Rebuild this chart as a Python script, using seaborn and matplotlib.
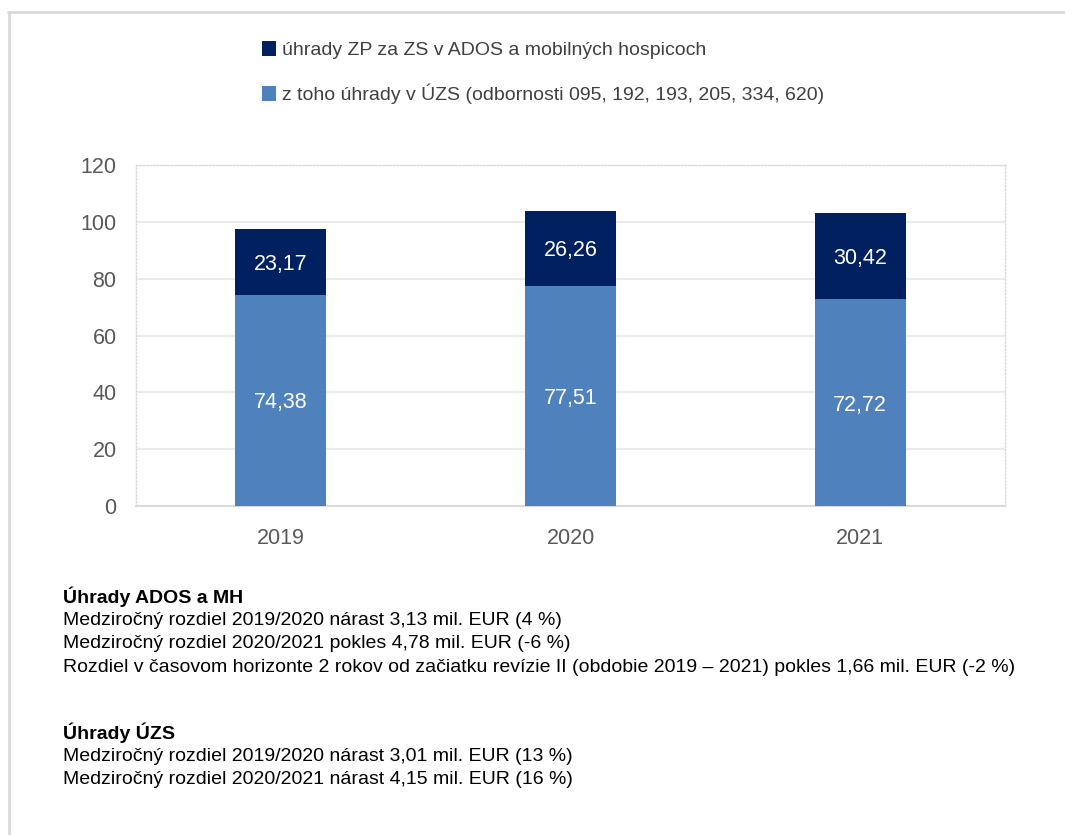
import matplotlib
matplotlib.use("Agg")
import matplotlib.pyplot as plt
from matplotlib.patches import Patch
from matplotlib.lines import Line2D
import pandas as pd
import seaborn as sns

# -------------------------
# Data
# -------------------------
years = ["2019", "2020", "2021"]
uzs = [74.38, 77.51, 72.72]          # z toho úhrady v ÚZS
ados_rest = [23.17, 26.26, 30.42]    # úhrady ZP za ZS v ADOS a MH (zvyšok)

legend_labels = [
    "úhrady ZP za ZS v ADOS a mobilných hospicoch",
    "z toho úhrady v ÚZS (odbornosti 095, 192, 193, 205, 334, 620)",
]

notes_ados_title = "Úhrady ADOS a MH"
notes_ados = [
    "Medziročný rozdiel 2019/2020 nárast 3,13 mil. EUR (4 %)",
    "Medziročný rozdiel 2020/2021 pokles 4,78 mil. EUR (-6 %)",
    "Rozdiel v časovom horizonte 2 rokov od začiatku revízie II (obdobie 2019 – 2021) pokles 1,66 mil. EUR (-2 %)",
]
notes_uzs_title = "Úhrady ÚZS"
notes_uzs = [
    "Medziročný rozdiel 2019/2020 nárast 3,01 mil. EUR (13 %)",
    "Medziročný rozdiel 2020/2021 nárast 4,15 mil. EUR (16 %)",
]

df = pd.DataFrame({"rok": years, "uzs": uzs, "ados": ados_rest})
df["spolu"] = df.uzs + df.ados

DARK = "#002060"
LIGHT = "#4F81BD"

sns.set_theme(style="white")
plt.rcParams["font.family"] = ["Liberation Sans", "DejaVu Sans"]

fig = plt.figure(figsize=(10.65, 8.35), dpi=100)
ax = fig.add_axes([136 / 1065, 1 - 506 / 835, 869 / 1065, 341 / 835])

# total bar (dark) first, then the lower part (light) on top of it
sns.barplot(data=df, x="rok", y="spolu", color=DARK, width=0.314,
            saturation=1, linewidth=0, ax=ax, zorder=3)
sns.barplot(data=df, x="rok", y="uzs", color=LIGHT, width=0.314,
            saturation=1, linewidth=0, ax=ax, zorder=3)

# value labels
for i, row in df.iterrows():
    ax.text(i, row.uzs / 2, f"{row.uzs:.2f}".replace(".", ","),
            ha="center", va="center_baseline", color="white",
            fontsize=15.5, zorder=4)
    ax.text(i, row.uzs + row.ados / 2, f"{row.ados:.2f}".replace(".", ","),
            ha="center", va="center_baseline", color="white",
            fontsize=15.5, zorder=4)

ax.set_xlim(-0.5, 2.5)
ax.set_ylim(0, 120)
ax.set_yticks(range(0, 121, 20))
ax.set_xlabel("")
ax.set_ylabel("")
ax.yaxis.grid(True, color="#ebebeb", linewidth=1.5, zorder=0)
ax.tick_params(axis="both", colors="#595959", labelsize=15.5, length=0)
ax.tick_params(axis="y", pad=14)
ax.tick_params(axis="x", pad=16)

for side in ["top", "left", "right"]:
    ax.spines[side].set_visible(True)
    ax.spines[side].set_color("#d9d9d9")
    ax.spines[side].set_linestyle((0, (1, 1.5)))
    ax.spines[side].set_linewidth(1)
ax.spines["bottom"].set_color("#d9d9d9")
ax.spines["bottom"].set_linewidth(1.5)

# legend
handles = [Patch(facecolor=DARK, edgecolor="none"),
           Patch(facecolor=LIGHT, edgecolor="none")]
fig.legend(handles, legend_labels, loc="upper left",
           bbox_to_anchor=(244 / 1065, 1 - 24 / 835), frameon=False,
           fontsize=14, labelcolor="#404040", handlelength=0.75,
           handleheight=0.75, handletextpad=0.3, labelspacing=1.25)

# notes below the chart
x0 = 63 / 1065
lh = 23.5 / 835
y = 1 - 597 / 835
fig.text(x0, y, notes_ados_title, fontsize=14, fontweight="bold",
         color="black", va="center")
for k, line in enumerate(notes_ados, start=1):
    fig.text(x0, y - k * lh, line, fontsize=14, color="black", va="center")
y2 = 1 - 733 / 835
fig.text(x0, y2, notes_uzs_title, fontsize=14, fontweight="bold",
         color="black", va="center")
for k, line in enumerate(notes_uzs, start=1):
    fig.text(x0, y2 - k * lh, line, fontsize=14, color="black", va="center")

# outer frame (top and left edge)
fig.add_artist(Line2D([8 / 1065, 1], [1 - 11.5 / 835] * 2, color="#d9d9d9",
                      linewidth=2, transform=fig.transFigure))
fig.add_artist(Line2D([8.5 / 1065] * 2, [0, 1 - 11.5 / 835], color="#d9d9d9",
                      linewidth=2, transform=fig.transFigure))

fig.savefig("out.png", dpi=100)
